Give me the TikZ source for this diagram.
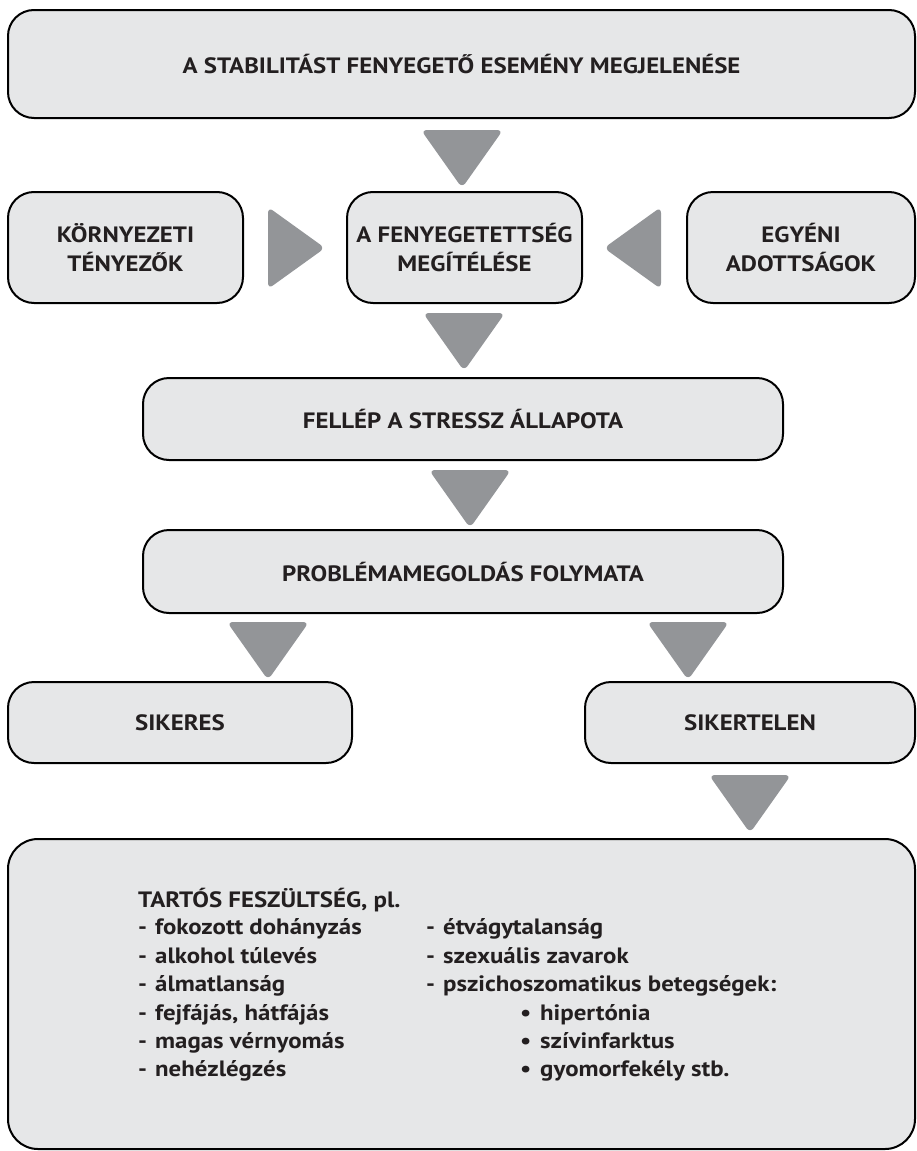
\documentclass[tikz,border=0pt]{standalone}
\usepackage{fontspec}
\setmainfont[FakeStretch=1.12]{PT Sans}
\definecolor{boxgray}{HTML}{E6E7E8}
\definecolor{arrowgray}{HTML}{939598}
\definecolor{inkblack}{HTML}{231F20}

\begin{document}
\begin{tikzpicture}[x=1pt,y=-1pt,
    box/.style={draw=black,line width=2pt,fill=boxgray,rounded corners=26pt,inner sep=0pt,align=center,text=inkblack,font=\bfseries\fontsize{22.2}{28.5}\selectfont},
    item/.style={anchor=base west,inner sep=0pt,text=inkblack,font=\bfseries\fontsize{22.2}{28.5}\selectfont},
    tri/.style={fill=arrowgray,rounded corners=6pt},
    downtri/.pic={\fill[tri] (-41,0) -- (41,0) -- (0,58) -- cycle;},
    righttri/.pic={\fill[tri] (0,-41) -- (0,41) -- (57,0) -- cycle;},
    lefttri/.pic={\fill[tri] (0,-41) -- (0,41) -- (-57,0) -- cycle;}]
    \useasboundingbox (0,0) rectangle (917,1151);
    \node[box,minimum width=907pt,minimum height=108pt] (event) at (461.5,64) {A STABILITÁST FENYEGETŐ ESEMÉNY MEGJELENÉSE};
    \node[box,minimum width=235pt,minimum height=111pt] (env) at (125.5,247.5) {KÖRNYEZETI\\TÉNYEZŐK};
    \node[box,minimum width=235pt,minimum height=111pt] (threat) at (464.5,247.5) {A FENYEGETETTSÉG\\MEGÍTÉLÉSE};
    \node[box,minimum width=228pt,minimum height=111pt] (indiv) at (801,247.5) {EGYÉNI\\ADOTTSÁGOK};
    \node[box,minimum width=640pt,minimum height=82pt] (stress) at (463,419) {FELLÉP A STRESSZ ÁLLAPOTA};
    \node[box,minimum width=640pt,minimum height=83pt] (solve) at (463,571.5) {PROBLÉMAMEGOLDÁS FOLYMATA};
    \node[box,minimum width=344pt,minimum height=81pt] (success) at (180,722.5) {SIKERES};
    \node[box,minimum width=330pt,minimum height=81pt] (failure) at (750,722.5) {SIKERTELEN};
    \node[box,minimum width=907pt,minimum height=310pt,rounded corners=30pt] (tension) at (461.5,994) {};
    % arrows
    \pic (arrA) at (462,130) {downtri};
    \pic (arrB) at (464,313) {downtri};
    \pic (arrC) at (470,470) {downtri};
    \pic (arrD) at (268,622) {downtri};
    \pic (arrE) at (688,622) {downtri};
    \pic (arrF) at (750,775) {downtri};
    \pic (arrG) at (268,248) {righttri};
    \pic (arrH) at (661,248) {lefttri};
    % examples
    \node[item] (head) at (138,907) {TARTÓS FESZÜLTSÉG, pl.};
    \foreach \txt [count=\i] in {fokozott dohányzás, alkohol túlevés, álmatlanság, {fejfájás, hátfájás}, magas vérnyomás, nehézlégzés}
      \node[item] (left\i) at (138,{906.5+28.4*\i}) {\makebox[17pt][l]{-}\txt};
    \foreach \txt [count=\i] in {étvágytalanság, szexuális zavarok, pszichoszomatikus betegségek:}
      \node[item] (right\i) at (426,{906.5+28.4*\i}) {\makebox[17pt][l]{-}\txt};
    \foreach \txt [count=\i from 4] in {hipertónia, szívinfarktus, gyomorfekély stb.}
      \node[item] (sub\i) at (520,{906.5+28.4*\i}) {\makebox[20pt][l]{\textbullet}\txt};
\end{tikzpicture}
\end{document}
